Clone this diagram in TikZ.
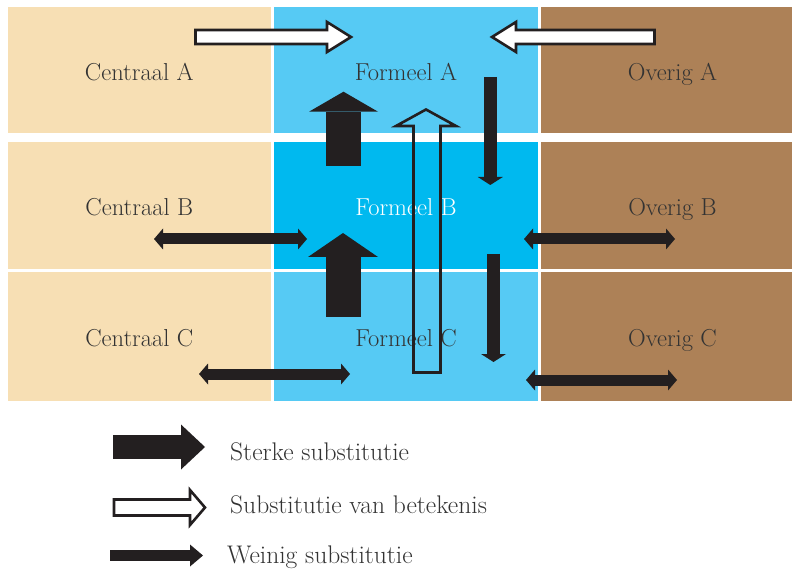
\documentclass[tikz,border=0pt]{standalone}
\usepackage{fontspec}
\usetikzlibrary{arrows.meta}
\definecolor{centraal}{RGB}{247,223,180}
\definecolor{formeel}{RGB}{86,202,244}
\definecolor{formeelB}{RGB}{0,185,239}
\definecolor{overig}{RGB}{173,129,87}
\definecolor{pijl}{RGB}{35,31,32}
\definecolor{tekst}{RGB}{51,51,51}

\begin{document}
\begin{tikzpicture}[x=1pt,y=-1pt,
	cel/.style={inner sep=0pt, outer sep=0pt, text=tekst, text height=21pt, text depth=0pt, font=\fontsize{24.5}{28}\selectfont},
	sterk/.style={pijl, line width=#1},
	weinig/.style={pijl, line width=11pt, {Triangle[length=9pt,width=21pt,line width=0pt]}-{Triangle[length=9pt,width=21pt,line width=0pt]}},
	hol/.style={pijl, line width=2.6pt, line join=miter},
	legenda/.style={anchor=west, inner sep=0pt, text=tekst, text height=21pt, text depth=0pt, font=\fontsize{25.5}{28}\selectfont}]
	\useasboundingbox (0,0) rectangle (792,569);
	% cellen
	\node[name=CA, cel, fill=centraal, minimum width=262.5pt, minimum height=126.5pt] at (139.25,70.25) {Centraal A};
	\node[name=FA, cel, fill=formeel, minimum width=264pt, minimum height=126.5pt] at (406,70.25) {Formeel A};
	\node[name=OA, cel, fill=overig, minimum width=251pt, minimum height=126.5pt] at (666.5,70.25) {\hspace*{12pt}Overig A};
	\node[name=CB, cel, fill=centraal, minimum width=262.5pt, minimum height=127.3pt] at (139.25,205.35) {Centraal B};
	\node[name=FB, cel, fill=formeelB, minimum width=264pt, minimum height=127.3pt, text=white] at (406,205.35) {Formeel B};
	\node[name=OB, cel, fill=overig, minimum width=251pt, minimum height=127.3pt] at (666.5,205.35) {\hspace*{12pt}Overig B};
	\node[name=CC, cel, fill=centraal, minimum width=262.5pt, minimum height=129.3pt] at (139.25,336.35) {Centraal C};
	\node[name=FC, cel, fill=formeel, minimum width=264pt, minimum height=129.3pt] at (406,336.35) {Formeel C};
	\node[name=OC, cel, fill=overig, minimum width=251pt, minimum height=129.3pt] at (666.5,336.35) {\hspace*{12pt}Overig C};
	% holle pijlen
	\draw[hol, fill=white] (195.5,30) -- (327,30) -- (327,22) -- (351,37) -- (327,52) -- (327,44) -- (195.5,44) -- cycle;
	\draw[hol, fill=white] (654.5,30) -- (516,30) -- (516,22) -- (492,37) -- (516,52) -- (516,44) -- (654.5,44) -- cycle;
	\draw[hol] (413.5,372.5) -- (413.5,126) -- (396,126) -- (426,109.5) -- (456,126) -- (440.5,126) -- (440.5,372.5) -- cycle;
	% sterke pijlen
	\coordinate (S1) at (343.5,165.7);
	\coordinate (S2) at (343.5,91.7);
	\draw[sterk=35pt, -{Triangle[length=20pt,width=69pt,line width=0pt]}] (S1) -- (S2);
	\coordinate (S3) at (343,316.7);
	\coordinate (S4) at (343,233);
	\draw[sterk=35pt, -{Triangle[length=24pt,width=70pt,line width=0pt]}] (S3) -- (S4);
	% neerwaartse pijlen
	\coordinate (N1) at (490.3,77);
	\coordinate (N2) at (490.3,185);
	\draw[sterk=13pt, -{Triangle[length=8pt,width=25pt,line width=0pt]}] (N1) -- (N2);
	\coordinate (N3) at (493.5,254);
	\coordinate (N4) at (493.5,362);
	\draw[sterk=13pt, -{Triangle[length=8pt,width=25pt,line width=0pt]}] (N3) -- (N4);
	% weinig substitutie
	\coordinate (W1) at (154,239);
	\coordinate (W2) at (307,239);
	\draw[weinig] (W1) -- (W2);
	\coordinate (W3) at (524,239);
	\coordinate (W4) at (675,239);
	\draw[weinig] (W3) -- (W4);
	\coordinate (W5) at (199,374);
	\coordinate (W6) at (350,374);
	\draw[weinig] (W5) -- (W6);
	\coordinate (W7) at (526,380);
	\coordinate (W8) at (677,380);
	\draw[weinig] (W7) -- (W8);
	% legenda
	\coordinate (L1) at (113,447);
	\coordinate (L2) at (205,447);
	\draw[sterk=24pt, -{Triangle[length=24pt,width=45pt,line width=0pt]}] (L1) -- (L2);
	\node[name=T1, legenda] at (230,449.5) {Sterke substitutie};
	\draw[hol, fill=white] (114,499.5) -- (190,499.5) -- (190,490) -- (205,507.5) -- (190,525) -- (190,515.5) -- (114,515.5) -- cycle;
	\node[name=T2, legenda] at (230,502.5) {Substitutie van betekenis};
	\coordinate (L3) at (110,555.5);
	\coordinate (L4) at (203,555.5);
	\draw[sterk=11pt, -{Triangle[length=13pt,width=22pt,line width=0pt]}] (L3) -- (L4);
	\node[name=T3, legenda] at (227,552.5) {Weinig substitutie};
\end{tikzpicture}
\end{document}
